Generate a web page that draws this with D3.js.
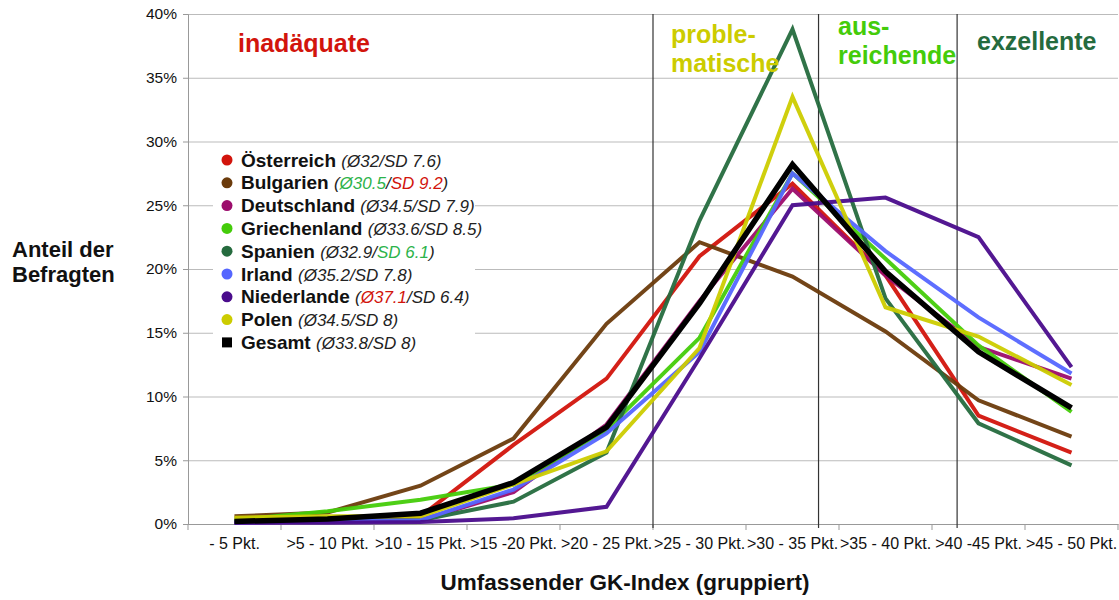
<!DOCTYPE html>
<html>
<head>
<meta charset="utf-8">
<script src="https://cdn.jsdelivr.net/npm/d3@7"></script>
<style>
  body { margin: 0; background: #fff; }
  svg { font-family: "Liberation Sans", Arial, sans-serif; }
</style>
</head>
<body>
<svg width="1119" height="600"></svg>
<script>
// categories on the x axis
var categories = ["- 5 Pkt.", ">5 - 10 Pkt.", ">10 - 15 Pkt.", ">15 -20 Pkt.", ">20 - 25 Pkt.",
                  ">25 - 30 Pkt.", ">30 - 35 Pkt.", ">35 - 40 Pkt.", ">40 -45 Pkt.", ">45 - 50 Pkt."];
var yTicks = [0, 5, 10, 15, 20, 25, 30, 35, 40];

// values in percent
var oesterreich   = [0.2, 0.3, 0.6, 6.2, 11.4, 21.0, 26.7, 19.5, 8.5, 5.6];
var bulgarien     = [0.6, 0.9, 3.0, 6.7, 15.7, 22.1, 19.4, 15.1, 9.7, 6.85];
var deutschland   = [0.1, 0.2, 0.3, 2.5, 7.8, 17.5, 26.3, 19.5, 13.9, 11.4];
var griechenland  = [0.3, 1.0, 1.9, 3.1, 7.4, 14.6, 27.5, 20.8, 14.0, 8.8];
var spanien       = [0.2, 0.3, 0.3, 1.75, 5.6, 23.8, 38.8, 17.7, 7.9, 4.6];
var irland        = [0.1, 0.2, 0.3, 2.7, 7.1, 13.5, 27.5, 21.4, 16.2, 11.8];
var niederlande   = [0.1, 0.1, 0.15, 0.45, 1.35, 13.0, 25.0, 25.6, 22.5, 12.3];
var polen         = [0.5, 0.6, 0.6, 3.1, 5.7, 13.8, 33.5, 17.0, 14.7, 10.9];
var gesamt        = [0.2, 0.4, 0.85, 3.25, 7.6, 17.3, 28.2, 19.8, 13.5, 9.1];

// index thresholds (in category units) for the vertical separators
var thresholds = [5, 6.78, 8.27];

var series = [
  {name: "Österreich",   values: oesterreich,  color: "#d2140c", mean: "Ø32",   sd: "SD 7.6", meanColor: "#222", sdColor: "#222"},
  {name: "Bulgarien",    values: bulgarien,    color: "#6b3b0c", mean: "Ø30.5", sd: "SD 9.2", meanColor: "#2db34a", sdColor: "#d2140c"},
  {name: "Deutschland",  values: deutschland,  color: "#9c0c6c", mean: "Ø34.5", sd: "SD 7.9", meanColor: "#222", sdColor: "#222"},
  {name: "Griechenland", values: griechenland, color: "#44cc0a", mean: "Ø33.6", sd: "SD 8.5", meanColor: "#222", sdColor: "#222", tight: true},
  {name: "Spanien",      values: spanien,      color: "#256b3e", mean: "Ø32.9", sd: "SD 6.1", meanColor: "#222", sdColor: "#2db34a"},
  {name: "Irland",       values: irland,       color: "#5566ff", mean: "Ø35.2", sd: "SD 7.8", meanColor: "#222", sdColor: "#222"},
  {name: "Niederlande",  values: niederlande,  color: "#4a0c8c", mean: "Ø37.1", sd: "SD 6.4", meanColor: "#d2140c", sdColor: "#222"},
  {name: "Polen",        values: polen,        color: "#cccc00", mean: "Ø34.5", sd: "SD 8",   meanColor: "#222", sdColor: "#222"},
  {name: "Gesamt",       values: gesamt,       color: "#000000", mean: "Ø33.8", sd: "SD 8",   meanColor: "#222", sdColor: "#222", square: true}
];

var svg = d3.select("svg"),
    plotLeft = 188, plotRight = 1118, plotTop = 14, plotBottom = 524;

var x = d3.scaleBand().domain(categories).range([plotLeft, plotRight]);
var xLin = d3.scaleLinear().domain([0, categories.length]).range([plotLeft, plotRight]);
var y = d3.scaleLinear().domain([0, 40]).range([plotBottom, plotTop]);

// horizontal grid
svg.append("g")
  .attr("transform", "translate(" + plotLeft + ",0)")
  .call(d3.axisLeft(y).tickValues(yTicks).tickSize(-(plotRight - plotLeft)).tickFormat(""))
  .call(function(g) {
    g.select(".domain").remove();
    g.selectAll("line").attr("stroke", "#bbb").attr("stroke-width", 1.2);
  });

// y axis
svg.append("g")
  .attr("transform", "translate(" + plotLeft + ",0)")
  .call(d3.axisLeft(y).tickValues(yTicks).tickSize(5).tickPadding(6).tickFormat(function(d) { return d + "%"; }))
  .call(function(g) {
    g.select(".domain").attr("stroke", "#999");
    g.selectAll("line").attr("stroke", "#999");
    g.selectAll("text").attr("font-size", 15.5).attr("fill", "#111")
      .attr("font-family", "Liberation Sans, Arial, sans-serif");
  });

// x axis
var xAxis = svg.append("g")
  .attr("transform", "translate(0," + plotBottom + ")")
  .call(d3.axisBottom(x).tickSize(0).tickPadding(14))
  .call(function(g) {
    g.select(".domain").attr("stroke", "#999").attr("stroke-width", 1.2);
    g.selectAll("text").attr("font-size", 16).attr("fill", "#111")
      .attr("font-family", "Liberation Sans, Arial, sans-serif");
  });
xAxis.selectAll(".sep").data(d3.range(categories.length + 1)).enter().append("line")
  .attr("x1", function(d) { return xLin(d); }).attr("x2", function(d) { return xLin(d); })
  .attr("y1", 0).attr("y2", 6).attr("stroke", "#999");

// vertical separators between the index levels
svg.selectAll(".thr").data(thresholds).enter().append("line")
  .attr("x1", function(d) { return xLin(d); }).attr("x2", function(d) { return xLin(d); })
  .attr("y1", plotTop).attr("y2", plotBottom + 4)
  .attr("stroke", "#333").attr("stroke-width", 1.2);

// legend box (covers the grid)
svg.append("rect").attr("x", 213).attr("y", 146).attr("width", 262).attr("height", 210).attr("fill", "#fff");

// lines
var line = d3.line()
  .x(function(d, i) { return x(categories[i]) + x.bandwidth() / 2; })
  .y(function(d) { return y(d); });

svg.selectAll(".series").data(series).enter().append("path")
  .attr("d", function(d) { return line(d.values); })
  .attr("fill", "none")
  .attr("stroke", function(d) { return d.color; })
  .attr("stroke-width", function(d) { return d.square ? 5.5 : 4; })
  .attr("stroke-linejoin", "miter")
  .attr("stroke-opacity", function(d) { return d.square ? 1 : 0.95; });

// legend
var leg = svg.selectAll(".leg").data(series).enter().append("g")
  .attr("transform", function(d, i) { return "translate(227," + (160 + i * 22.8) + ")"; });
leg.filter(function(d) { return !d.square; }).append("circle")
  .attr("r", 5.5).attr("fill", function(d) { return d.color; });
leg.filter(function(d) { return d.square; }).append("rect")
  .attr("x", -5).attr("y", -5).attr("width", 10).attr("height", 10).attr("fill", "#000");
var lt = leg.append("text").attr("x", 14).attr("y", 6.5).attr("font-size", 19);
lt.append("tspan").attr("font-weight", "bold").attr("fill", "#111")
  .text(function(d) { return d.name + (d.tight ? " " : "  "); });
var it = 17;
lt.append("tspan").attr("font-style", "italic").attr("font-size", it).attr("fill", "#222").text("(");
lt.append("tspan").attr("font-style", "italic").attr("font-size", it)
  .attr("fill", function(d) { return d.meanColor; }).text(function(d) { return d.mean; });
lt.append("tspan").attr("font-style", "italic").attr("font-size", it).attr("fill", "#222").text("/");
lt.append("tspan").attr("font-style", "italic").attr("font-size", it)
  .attr("fill", function(d) { return d.sdColor; }).text(function(d) { return d.sd; });
lt.append("tspan").attr("font-style", "italic").attr("font-size", it).attr("fill", "#222").text(")");

// level annotations
var levels = [
  {lines: ["inadäquate"], x: 238, y: 52, color: "#d2140c"},
  {lines: ["proble-", "matische"], x: 671, y: 43, color: "#cccc00"},
  {lines: ["aus-", "reichende"], x: 838, y: 35, color: "#44cc0a"},
  {lines: ["exzellente"], x: 977, y: 50, color: "#256b3e"}
];
levels.forEach(function(l) {
  var t = svg.append("text").attr("x", l.x).attr("y", l.y)
    .attr("font-size", 25).attr("font-weight", "bold").attr("fill", l.color);
  l.lines.forEach(function(s, i) {
    t.append("tspan").attr("x", l.x).attr("dy", i === 0 ? 0 : 29).text(s);
  });
});

// axis titles
svg.append("text").attr("x", 12).attr("y", 257).attr("font-size", 22).attr("font-weight", "bold")
  .attr("fill", "#111")
  .selectAll("tspan").data(["Anteil der", "Befragten"]).enter().append("tspan")
  .attr("x", 12).attr("dy", function(d, i) { return i === 0 ? 0 : 25; }).text(function(d) { return d; });

svg.append("text").attr("x", 625).attr("y", 590).attr("text-anchor", "middle")
  .attr("font-size", 22.5).attr("font-weight", "bold").attr("fill", "#111")
  .text("Umfassender GK-Index (gruppiert)");
</script>
</body>
</html>
